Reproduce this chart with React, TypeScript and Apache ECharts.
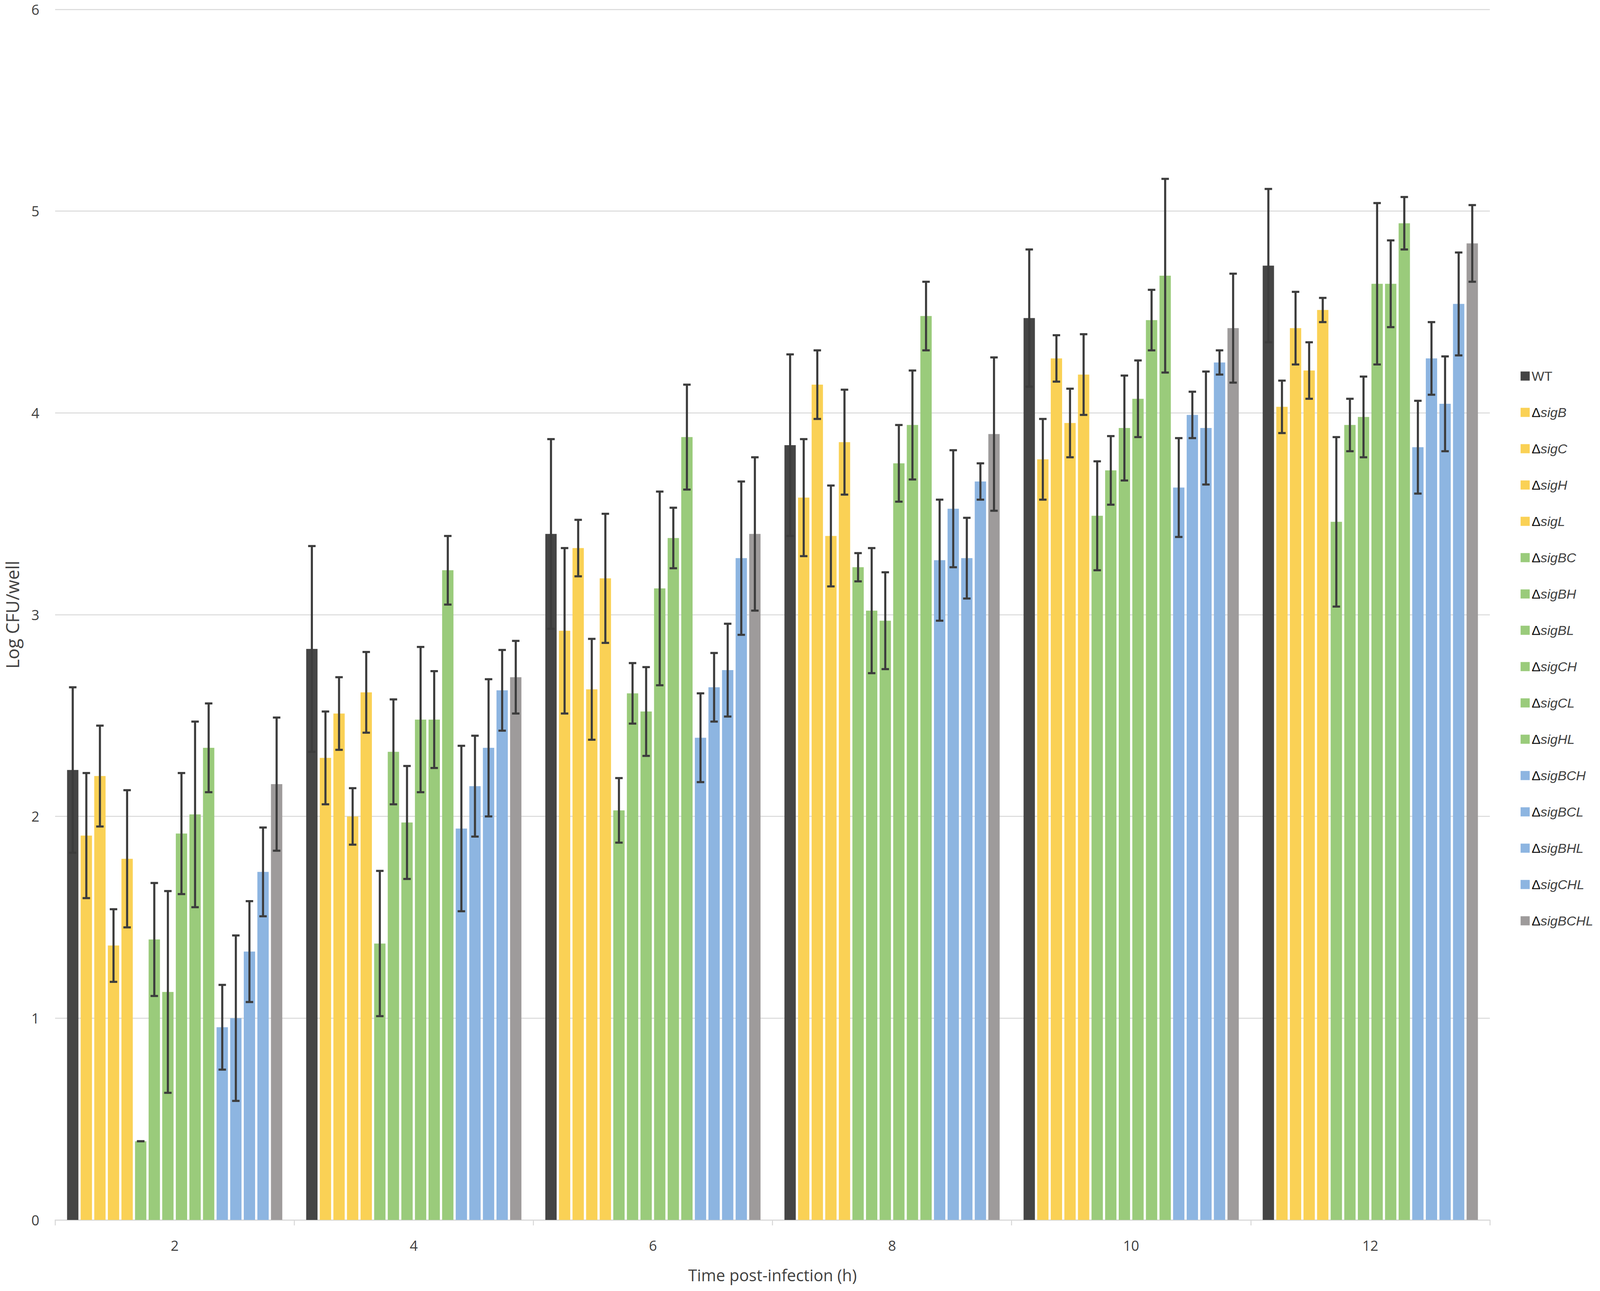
import React, { useEffect, useRef } from "react";
import * as echarts from "echarts";

const categories = ["2", "4", "6", "8", "10", "12"];
const seriesNames = [
  "WT", "ΔsigB", "ΔsigC", "ΔsigH", "ΔsigL",
  "ΔsigBC", "ΔsigBH", "ΔsigBL", "ΔsigCH", "ΔsigCL", "ΔsigHL",
  "ΔsigBCH", "ΔsigBCL", "ΔsigBHL", "ΔsigCHL", "ΔsigBCHL",
];
const seriesColors = [
  "#454545", "#FAD155", "#FAD155", "#FAD155", "#FAD155",
  "#9ACB7B", "#9ACB7B", "#9ACB7B", "#9ACB7B", "#9ACB7B", "#9ACB7B",
  "#8DB5E1", "#8DB5E1", "#8DB5E1", "#8DB5E1", "#9E9B9B",
];

const WT = [2.23, 2.83, 3.40, 3.84, 4.47, 4.73];
const sigB = [1.905, 2.29, 2.92, 3.58, 3.77, 4.03];
const sigC = [2.20, 2.51, 3.33, 4.14, 4.27, 4.42];
const sigH = [1.36, 2.00, 2.63, 3.39, 3.95, 4.21];
const sigL = [1.79, 2.615, 3.18, 3.855, 4.19, 4.51];
const sigBC = [0.39, 1.37, 2.03, 3.235, 3.49, 3.46];
const sigBH = [1.39, 2.32, 2.61, 3.02, 3.715, 3.94];
const sigBL = [1.13, 1.97, 2.52, 2.97, 3.925, 3.98];
const sigCH = [1.915, 2.48, 3.13, 3.75, 4.07, 4.64];
const sigCL = [2.01, 2.48, 3.38, 3.94, 4.46, 4.64];
const sigHL = [2.34, 3.22, 3.88, 4.48, 4.68, 4.94];
const sigBCH = [0.955, 1.94, 2.39, 3.27, 3.63, 3.83];
const sigBCL = [1.00, 2.15, 2.64, 3.525, 3.99, 4.27];
const sigBHL = [1.33, 2.34, 2.725, 3.28, 3.925, 4.045];
const sigCHL = [1.725, 2.625, 3.28, 3.66, 4.25, 4.54];
const sigBCHL = [2.16, 2.69, 3.40, 3.895, 4.42, 4.84];

const errWT = [0.41, 0.51, 0.47, 0.45, 0.34, 0.38];
const errB = [0.31, 0.23, 0.41, 0.29, 0.20, 0.13];
const errC = [0.25, 0.18, 0.14, 0.17, 0.115, 0.18];
const errH = [0.18, 0.14, 0.25, 0.25, 0.17, 0.14];
const errL = [0.34, 0.20, 0.32, 0.26, 0.20, 0.06];
const errBC = [0, 0.36, 0.16, 0.07, 0.27, 0.42];
const errBH = [0.28, 0.26, 0.15, 0.31, 0.17, 0.13];
const errBL = [0.50, 0.28, 0.22, 0.24, 0.26, 0.20];
const errCH = [0.30, 0.36, 0.48, 0.19, 0.19, 0.40];
const errCL = [0.46, 0.24, 0.15, 0.27, 0.15, 0.215];
const errHL = [0.22, 0.17, 0.26, 0.17, 0.48, 0.13];
const errBCH = [0.21, 0.41, 0.22, 0.30, 0.245, 0.23];
const errBCL = [0.41, 0.25, 0.17, 0.29, 0.115, 0.18];
const errBHL = [0.25, 0.34, 0.23, 0.20, 0.28, 0.235];
const errCHL = [0.22, 0.20, 0.38, 0.09, 0.06, 0.255];
const errBCHL = [0.33, 0.18, 0.38, 0.38, 0.27, 0.19];

const yTicks = { min: 0, max: 6, interval: 1 };

const values = [WT, sigB, sigC, sigH, sigL, sigBC, sigBH, sigBL, sigCH, sigCL, sigHL, sigBCH, sigBCL, sigBHL, sigCHL, sigBCHL];
const errors = [errWT, errB, errC, errH, errL, errBC, errBH, errBL, errCH, errCL, errHL, errBCH, errBCL, errBHL, errCHL, errBCHL];

const CAT_GAP = 0.1;
const BAR_GAP = 0.2;
const REF_W = 4562;
const REF_H = 3306;

export default function App() {
  const ref = useRef<HTMLDivElement>(null);
  useEffect(() => {
    const el = ref.current;
    if (!el) return;
    const W = el.clientWidth || REF_W;
    const H = el.clientHeight || REF_H;
    const sx = W / REF_W;
    const sy = H / REF_H;
    const sf = Math.min(sx, sy);
    const chart = echarts.init(el, undefined, { renderer: "svg", width: W, height: H });
    const N = seriesNames.length;
    const barSeries = seriesNames.map((name, i) => ({
      name,
      type: "bar",
      data: values[i],
      barCategoryGap: (CAT_GAP * 100) + "%",
      barGap: (BAR_GAP * 100) + "%",
      itemStyle: { color: seriesColors[i] },
      z: 2,
    }));
    const errData: number[][] = [];
    values.forEach((arr, s) => arr.forEach((v, c) => errData.push([c, v, errors[s][c], s])));
    const errSeries = {
      name: "error",
      type: "custom",
      data: errData,
      encode: { x: 0, y: 1 },
      z: 10,
      renderItem: (params: any, api: any) => {
        const cat = api.value(0);
        const v = api.value(1);
        const e = api.value(2);
        const s = api.value(3);
        const catW = api.size([1, 0])[0];
        const groupW = catW * (1 - CAT_GAP);
        const bw = groupW / (N + (N - 1) * BAR_GAP);
        const c = api.coord([cat, v]);
        const x = c[0] - groupW / 2 + s * bw * (1 + BAR_GAP) + bw / 2;
        const yT = api.coord([cat, v + e])[1];
        const yB = api.coord([cat, v - e])[1];
        const hw = bw * 0.33;
        const st = { stroke: "#3C3C3C", lineWidth: 6 * sf };
        return {
          type: "group",
          children: [
            { type: "line", shape: { x1: x, y1: yT, x2: x, y2: yB }, style: st },
            { type: "line", shape: { x1: x - hw, y1: yT, x2: x + hw, y2: yT }, style: st },
            { type: "line", shape: { x1: x - hw, y1: yB, x2: x + hw, y2: yB }, style: st },
          ],
        };
      },
    };
    const lf = 38 * sx;
    const lh = 42 * sy;
    const legendFont = "Liberation Sans";
    chart.setOption({
      animation: false,
      backgroundColor: "#ffffff",
      grid: { left: 150 * sx, right: 314 * sx, top: 24 * sy, bottom: 182 * sy },
      legend: {
        data: seriesNames,
        orient: "vertical",
        left: 4330 * sx,
        top: 937 * sy,
        icon: "rect",
        itemWidth: 26 * sx,
        itemHeight: 26 * sx,
        itemGap: 93 * sy - lh,
        textStyle: {
          fontFamily: legendFont,
          fontSize: lf,
          color: "#404040",
          lineHeight: lh,
          rich: {
            n: { fontFamily: legendFont, fontSize: lf, color: "#404040", lineHeight: lh },
            d: { fontFamily: legendFont, fontSize: lf, color: "#111111", lineHeight: lh },
            i: { fontFamily: legendFont, fontSize: lf, fontStyle: "italic", color: "#404040", lineHeight: lh },
          },
        },
        formatter: (name: string) =>
          name === "WT" ? "{n|WT}" : "{d|Δ}{i|" + name.slice(1) + "}",
      },
      xAxis: {
        type: "category",
        data: categories,
        name: "Time post-infection (h)",
        nameLocation: "middle",
        nameGap: 120 * sy,
        nameTextStyle: { fontFamily: "Open Sans", fontSize: 46 * sx, color: "#404040" },
        axisLine: { lineStyle: { color: "#D9D9D9", width: 3 * sf } },
        axisTick: { show: true, alignWithLabel: false, length: 14 * sy, lineStyle: { color: "#D9D9D9", width: 3 * sf } },
        axisLabel: { fontFamily: "Open Sans", fontSize: 40 * sx, color: "#404040", margin: 47 * sy },
      },
      yAxis: {
        type: "value",
        min: yTicks.min,
        max: yTicks.max,
        interval: yTicks.interval,
        name: "Log CFU/well",
        nameLocation: "middle",
        nameGap: 97 * sx,
        nameTextStyle: { fontFamily: "Open Sans", fontSize: 46 * sy, color: "#404040" },
        axisLine: { show: false },
        axisTick: { show: false },
        splitLine: { lineStyle: { color: "#D9D9D9", width: 3 * sf } },
        axisLabel: { fontFamily: "Open Sans", fontSize: 40 * sx, color: "#404040", margin: 45 * sx },
      },
      series: [...barSeries, errSeries],
    });
    return () => chart.dispose();
  }, []);
  return (
    <div
      ref={ref}
      style={{ position: "fixed", left: 0, top: 0, width: "100vw", height: "100vh", background: "#fff" }}
    />
  );
}
